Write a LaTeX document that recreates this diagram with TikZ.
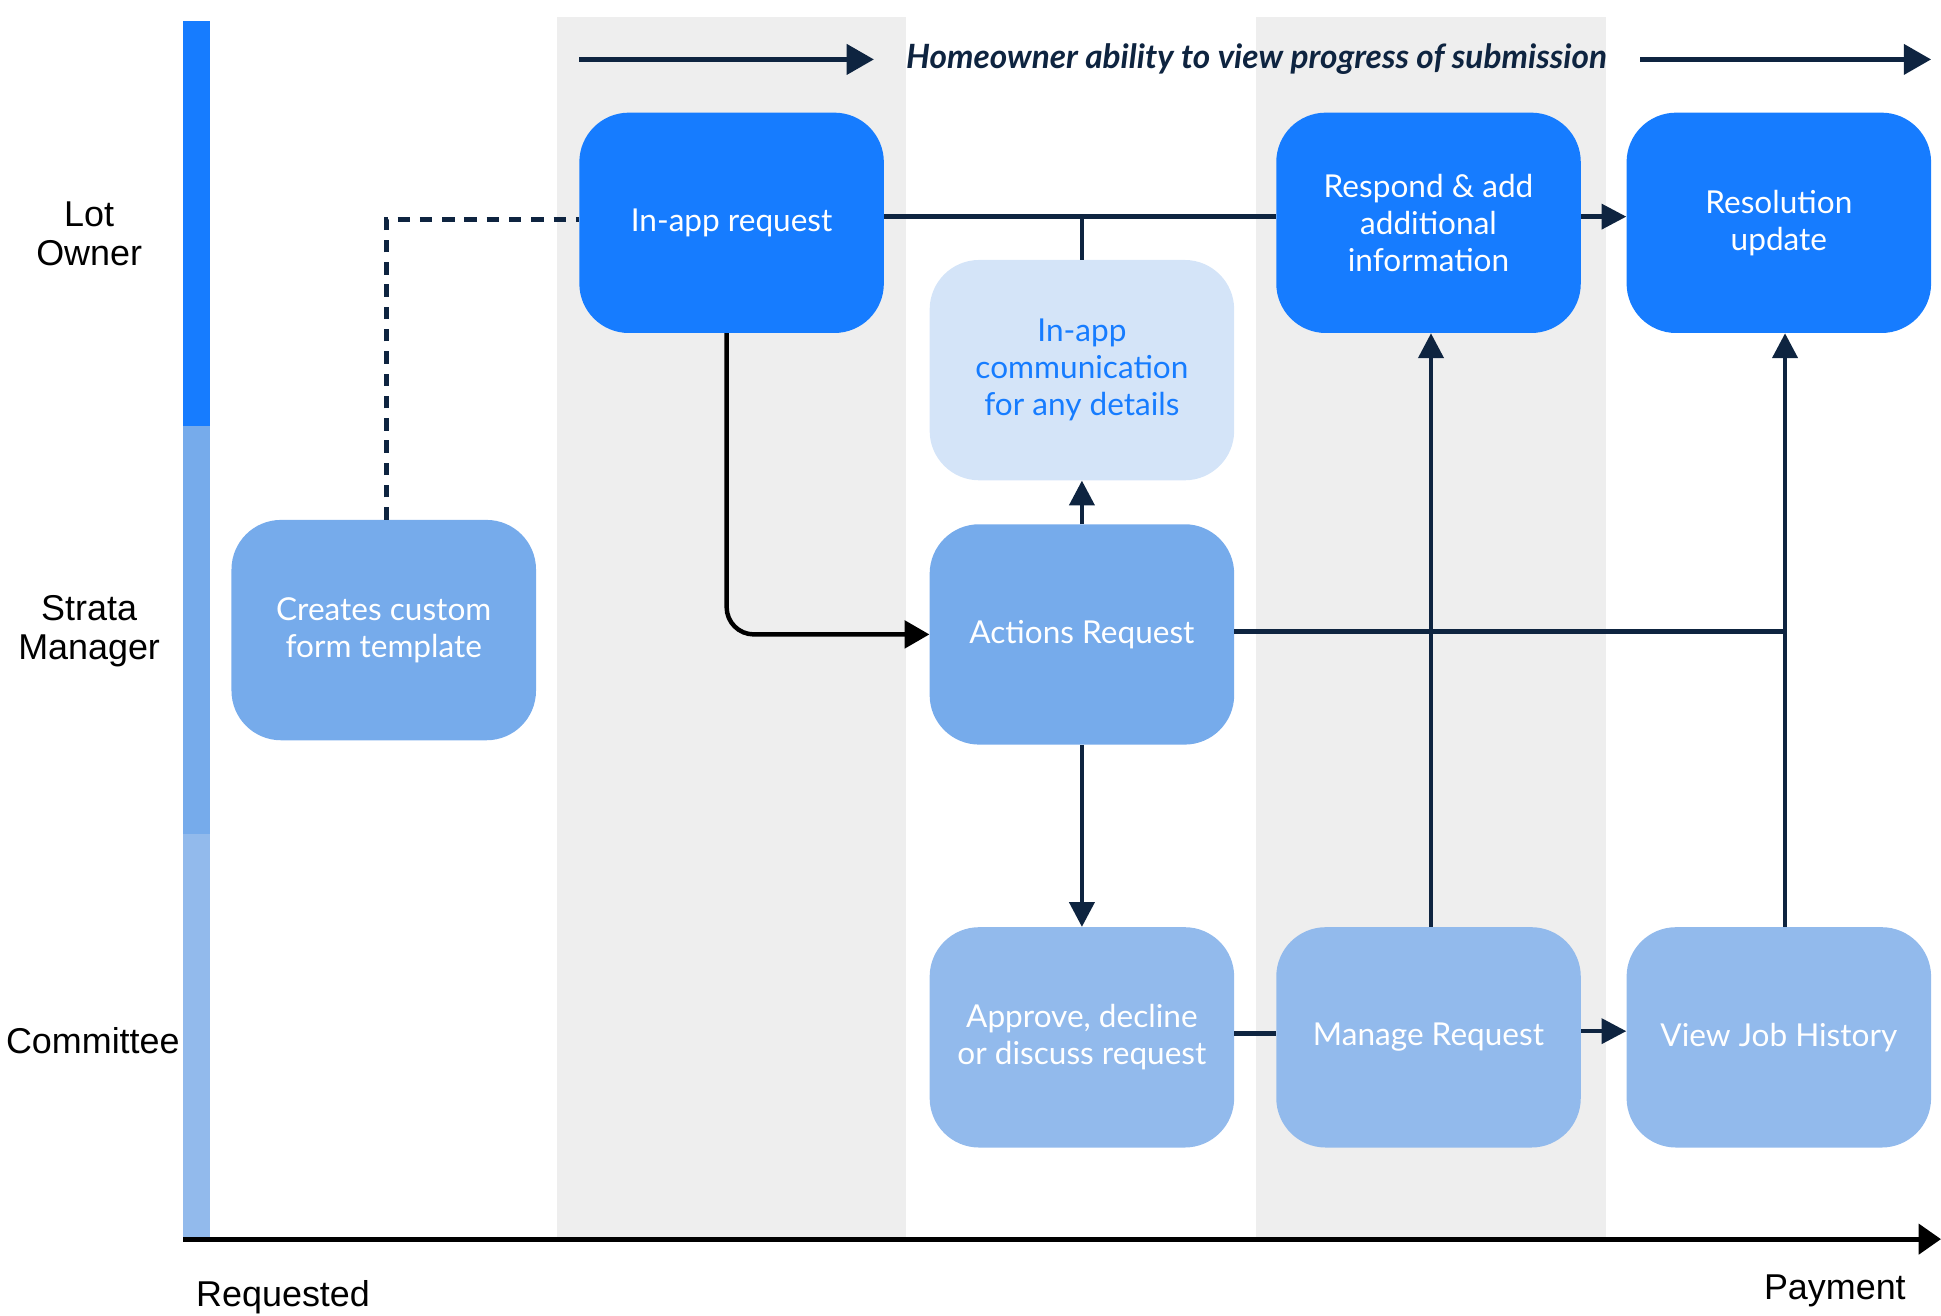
\documentclass[tikz,border=0pt]{standalone}
\usepackage{fontspec}
\setmainfont{Lato}
\newfontfamily\lblfont{Liberation Sans}
\usetikzlibrary{arrows.meta}
\definecolor{bblue}{HTML}{167CFF}
\definecolor{mblue}{HTML}{76ABEB}
\definecolor{lblue}{HTML}{92BAEC}
\definecolor{pblue}{HTML}{D4E4F8}
\definecolor{navy}{HTML}{0E2440}
\definecolor{band}{HTML}{EEEEEE}
\tikzset{
  box/.style={rounded corners=40pt, minimum width=246pt, minimum height=178pt,
    align=center, text=white, font=\fontsize{25.5}{30}\selectfont, inner sep=0pt},
  topbox/.style={box, fill=bblue},
  midbox/.style={box, fill=mblue},
  lowbox/.style={box, fill=lblue},
  commbox/.style={box, fill=pblue, text=bblue},
  conn/.style={draw=navy, line width=3.6pt},
  arr/.style={conn, -{Triangle[length=20pt,width=20pt]}},
  lane/.style={font=\lblfont\fontsize{29}{32}\selectfont, align=center, text=black},
}
\begin{document}
\begin{tikzpicture}[x=1pt,y=-1pt]
\useasboundingbox (0,0) rectangle (1568,1063);
% bands
\fill[band] (450,14) rectangle (732,1000);
\fill[band] (1015,14) rectangle (1297,1000);
% lane bar
\fill[bblue] (148,17) rectangle (170,344);
\fill[mblue] (148,344) rectangle (170,674);
\fill[lblue] (148,674) rectangle (170,1000);
% lane labels
\node[lane] (lot) at (72,189) {Lot\\Owner};
\node[lane] (sm) at (72,510) {Strata\\Manager};
\node[lane] (com) at (75,841) {Committee};
\node[lane, anchor=west] (rq) at (155,1048) {Requested};
\node[lane, anchor=east] (pay) at (1543,1043) {Payment};
% axis
\coordinate (ax0) at (148,1001);
\coordinate (ax1) at (1568,1001);
\draw[line width=4pt, -{Triangle[length=18pt,width=24pt]}] (ax0) -- (ax1);
% top banner
\node[font=\bfseries\itshape\fontsize{27}{30}\selectfont, text=navy] (ban) at (1015,48) {Homeowner ability to view progress of submission};
\coordinate (ta0) at (468,48);
\coordinate (ta1) at (706,48);
\coordinate (tb0) at (1325,48);
\coordinate (tb1) at (1560,48);
\draw[navy, line width=4pt, -{Triangle[length=22pt,width=24pt]}] (ta0) -- (ta1);
\draw[navy, line width=4pt, -{Triangle[length=22pt,width=24pt]}] (tb0) -- (tb1);
% nodes
\node[topbox] (req) at (591,180) {In-app request};
\node[topbox] (resp) at (1154,180) {Respond \& add\\additional\\information};
\node[topbox] (res) at (1437,180) {Resolution\\update};
\node[commbox] (comm) at (874,299) {In-app\\communication\\for any details};
\node[midbox] (cre) at (310,509) {Creates custom\\form template};
\node[midbox] (act) at (874,512.5) {Actions Request};
\node[lowbox] (app) at (874,838) {Approve, decline\\or discuss request};
\node[lowbox] (man) at (1154,838) {Manage Request};
\node[lowbox] (hist) at (1437,838) {View Job History};
% connectors
\draw[navy, line width=4pt, dash pattern=on 10pt off 8pt] ([xshift=2pt]cre.north) |- ([yshift=3pt]req.west);
\draw[conn] ([yshift=5pt]req.east) -- ([yshift=5pt]resp.west);
\coordinate (tj) at (874,175);
\draw[conn] (tj) -- (comm.north);
\draw[arr] ([yshift=5pt]resp.east) -- ([yshift=5pt]res.west);
\draw[arr] (act.north) -- (comm.south);
\draw[black, line width=3.6pt, rounded corners=22pt, -{Triangle[length=20pt,width=22pt]}] ([xshift=-4pt]req.south) |- (act.west);
\coordinate (jn) at (1442,510);
\draw[conn] ([yshift=2.5pt]act.east) -- (jn);
\draw[arr] (act.south) -- (app.north);
\draw[conn] ([yshift=3pt]app.east) -- ([yshift=3pt]man.west);
\draw[arr] ([yshift=5pt]man.east) -- ([yshift=5pt]hist.west);
\draw[arr] ([xshift=2pt]man.north) -- ([xshift=2pt]resp.south);
\draw[arr] ([xshift=5pt]hist.north) -- ([xshift=5pt]res.south);
\end{tikzpicture}
\end{document}
